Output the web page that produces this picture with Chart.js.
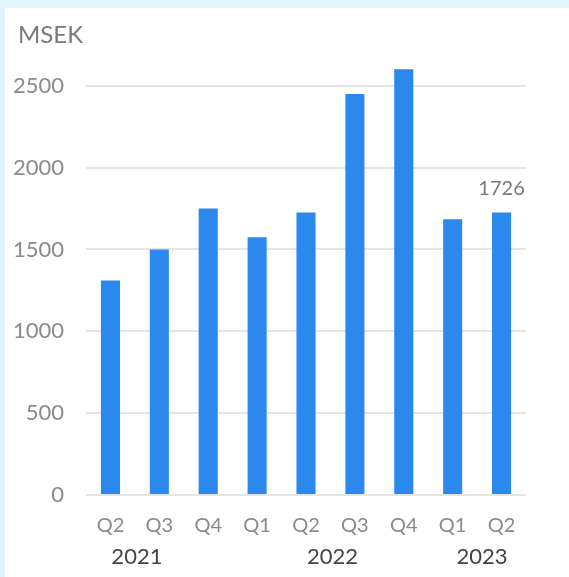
<!DOCTYPE html>
<html>
<head>
<meta charset="utf-8">
<script src="https://cdn.jsdelivr.net/npm/chart.js@4"></script>
<style>
  html, body { margin: 0; padding: 0; background: #e1f5fc; }
  #frame { position: absolute; left: 5px; top: 8px; width: 564px; height: 569px; background: #fff; }
  canvas { display: block; }
</style>
</head>
<body>
<div id="frame"><canvas id="chart" width="564" height="569"></canvas></div>
<script>
// Quarterly figures, MSEK
const quarters = ["Q2", "Q3", "Q4", "Q1", "Q2", "Q3", "Q4", "Q1", "Q2"];
const values = [1310, 1500, 1750, 1575, 1725, 2450, 2600, 1685, 1726];
const yearLabels = ["2021", "2022", "2023"];
const yearCenters = [[0, 1], [4, 5], [7, 8]]; // category indexes each year label sits between
const unitLabel = "MSEK";
const yTicks = [0, 500, 1000, 1500, 2000, 2500];

const FONT = "Lato, 'Open Sans', sans-serif";

const extras = {
  id: "extras",
  afterDraw(chart) {
    const { ctx, scales } = chart;
    const x = scales.x;
    const y = scales.y;
    ctx.save();
    ctx.font = `24px ${FONT}`;
    ctx.fillStyle = "#7a7a7a";
    ctx.textAlign = "left";
    ctx.textBaseline = "middle";
    ctx.fillText(unitLabel, 13, 27);

    // value label on the latest quarter
    const last = values.length - 1;
    ctx.font = `20px ${FONT}`;
    ctx.textAlign = "center";
    ctx.textBaseline = "bottom";
    ctx.fillText(String(values[last]), x.getPixelForValue(last), y.getPixelForValue(values[last]) - 14);

    ctx.font = `22px ${FONT}`;
    ctx.fillStyle = "#444";
    ctx.textBaseline = "middle";
    yearLabels.forEach((label, i) => {
      const [a, b] = yearCenters[i];
      const cx = (x.getPixelForValue(a) + x.getPixelForValue(b)) / 2 + (i === 2 ? 5 : 2);
      ctx.fillText(label, cx, 549);
    });
    ctx.restore();
  },
};

new Chart(document.getElementById("chart").getContext("2d"), {
  type: "bar",
  data: {
    labels: quarters,
    datasets: [{ data: values, backgroundColor: "#2b88ec", barPercentage: 0.78, categoryPercentage: 0.5 }],
  },
  options: {
    responsive: false,
    animation: false,
    layout: { padding: { left: 0, right: 43, top: 45, bottom: 0 } },
    plugins: { legend: { display: false }, tooltip: { enabled: false } },
    scales: {
      x: {
        grid: { display: false },
        border: { display: false },
        ticks: { color: "#8a8a8a", font: { family: FONT, size: 20 }, padding: 11 },
        afterFit: (s) => { s.height = 82; },
      },
      y: {
        min: 0,
        max: 2700,
        afterBuildTicks: (s) => { s.ticks = yTicks.map((v) => ({ value: v })); },
        grid: { color: "#e5e5e5", lineWidth: 2, drawTicks: false },
        border: { display: false },
        ticks: { color: "#8a8a8a", font: { family: FONT, size: 22 }, padding: 22, callback: (v) => String(v) },
        afterFit: (s) => { s.width = 81; },
      },
    },
  },
  plugins: [extras],
});
</script>
</body>
</html>
